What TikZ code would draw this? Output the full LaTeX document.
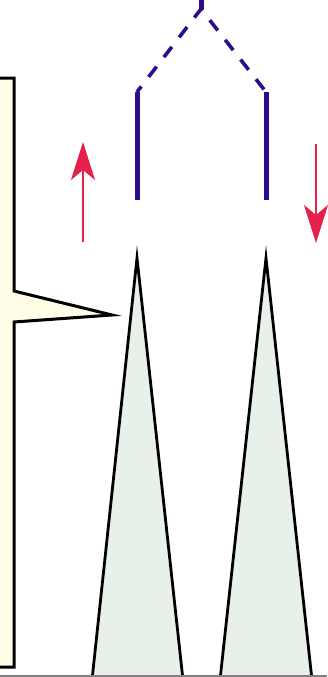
\documentclass[tikz,border=0pt]{standalone}
\usetikzlibrary{arrows.meta}
\definecolor{boxfill}{HTML}{FFFDE6}
\definecolor{spike}{HTML}{E8F0EA}
\definecolor{strand}{HTML}{2E0A8C}
\definecolor{flow}{HTML}{E5204A}
\tikzset{
  callout/.style={fill=boxfill,draw=black,line width=3pt,line join=miter},
  cone/.style={fill=spike,draw=black,line width=2.8pt,line join=miter},
  solidstrand/.style={draw=strand,line width=5pt},
  dashstrand/.style={draw=strand,line width=3.6pt,dash pattern=on 13pt off 12pt,dash phase=6pt},
  flowarrow/.style={draw=flow,line width=2.4pt,-{Stealth[length=38pt,width=24pt,inset=10pt]}}
}
\begin{document}
\begin{tikzpicture}[x=1pt,y=-1pt]
\useasboundingbox (0,0) rectangle (327,677);
% callout box
\draw[callout] (-5,78) -- (14,78) -- (14,291) -- (112,315) -- (14,322) -- (14,667) -- (-5,667) -- cycle;
% cones
\coordinate (la) at (137,258);
\coordinate (ra) at (266,258);
\draw[cone] (92,680) -- (la) -- (183,680);
\draw[cone] (220,680) -- (ra) -- (312,680);
% strands
\coordinate (top) at (201,-2);
\coordinate (fork) at (201,9);
\coordinate (lt) at (137,92);
\coordinate (lb) at (137,200);
\coordinate (rt) at (266,92);
\coordinate (rb) at (266,200);
\draw[solidstrand] (top) -- (fork);
\draw[dashstrand] (lt) -- (fork) -- (rt);
\draw[solidstrand] (lt) -- (lb);
\draw[solidstrand] (rt) -- (rb);
% arrows
\coordinate (a1s) at (83,242);
\coordinate (a1e) at (83,142);
\coordinate (a2s) at (316,144);
\coordinate (a2e) at (316,243);
\draw[flowarrow] (a1s) -- (a1e);
\draw[flowarrow] (a2s) -- (a2e);
% bottom rule
\draw[gray,line width=1.2pt] (0,676) -- (327,676);
\end{tikzpicture}
\end{document}
